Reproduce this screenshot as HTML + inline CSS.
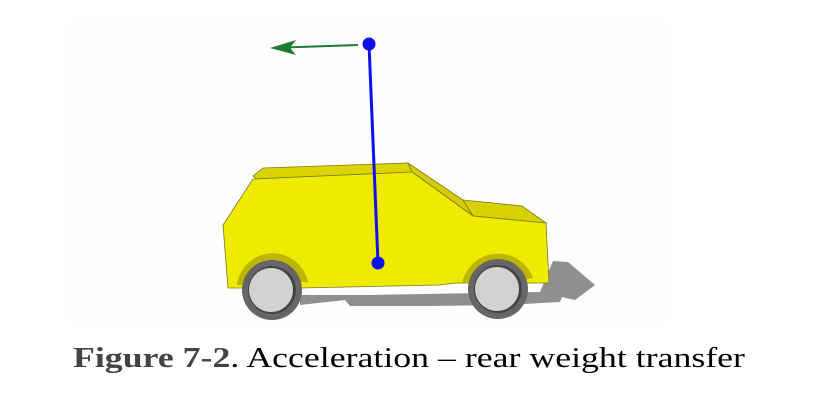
<!DOCTYPE html>
<html><head><meta charset="utf-8"><style>
html,body{margin:0;padding:0;background:#fff;width:818px;height:403px;overflow:hidden}
</style></head><body>
<svg width="818" height="403" viewBox="0 0 818 403">
<rect x="70" y="22" width="600" height="300" fill="#fefefd"/>
<g>
<polygon fill="#8f8f8f" points="300,295 370,295 540,292 553,261 568,262 595,285 575,300 562,297 560,302 505,305 430,306 350,306 345,300 300,305"/>
<polygon fill="#dcd400" stroke="#7a7a20" stroke-width="0.8" points="253,176 263,168 408,163 412,172 258,180"/>
<polygon fill="#d4cc00" stroke="#7a7a20" stroke-width="0.8" points="408,163 463,200 473,216 412,172"/>
<polygon fill="#d8d000" stroke="#7a7a20" stroke-width="0.8" points="463,200 522,206 546,223 473,216"/>
<polygon fill="#eeea00" stroke="#7a7a20" stroke-width="0.8" points="253,179 412,172 473,216 546,223 549,283 455,283 440,285 300,288 228,288 223,225"/>
<path d="M237,285 A36,36 0 0 1 308,282 L300,282 A29,29 0 0 0 244,285 Z" fill="#bdb600"/>
<path d="M462,283 A37,37 0 0 1 533,278 L525,280 A29,29 0 0 0 470,283 Z" fill="#bdb600"/>
<g>
<circle cx="272" cy="290" r="30" fill="#666"/>
<circle cx="272" cy="290" r="24" fill="#444"/>
<circle cx="271" cy="290" r="22" fill="#d2d2d2"/>
</g>
<g>
<circle cx="498" cy="289" r="30" fill="#666"/>
<circle cx="498" cy="289" r="24" fill="#444"/>
<circle cx="497" cy="289" r="22" fill="#d2d2d2"/>
</g>
</g>
<g>
<line x1="369" y1="44" x2="378" y2="263" stroke="#1010ee" stroke-width="3"/>
<circle cx="369" cy="44" r="6.5" fill="#1010ee"/>
<circle cx="378" cy="263" r="6.5" fill="#1010ee"/>
</g>
<g>
<line x1="358" y1="45" x2="285" y2="47.5" stroke="#207a30" stroke-width="2"/>
<polygon points="270,48 296,40 290,47.6 296,55" fill="#207a30"/>
</g>
<text x="73" y="367" font-family="'Liberation Serif',serif" font-size="28" fill="#000" textLength="672" lengthAdjust="spacingAndGlyphs"><tspan font-weight="bold" fill="#444">Figure 7-2</tspan>.  Acceleration – rear weight transfer</text>
</svg>
</body></html>
